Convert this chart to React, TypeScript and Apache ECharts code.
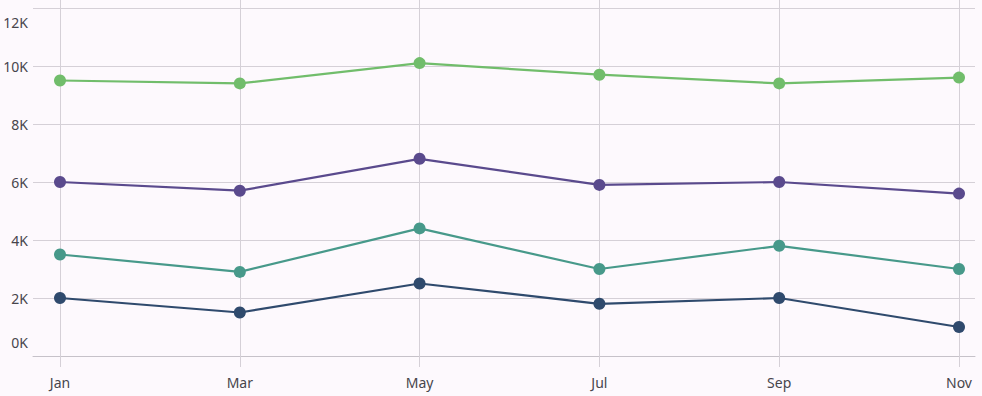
import React, { useEffect, useRef } from "react";
import * as echarts from "echarts";

const months = ["Jan", "Mar", "May", "Jul", "Sep", "Nov"];
const seriesGreen = [9500, 9400, 10100, 9700, 9400, 9600];
const seriesPurple = [6000, 5700, 6800, 5900, 6000, 5600];
const seriesTeal = [3500, 2900, 4400, 3000, 3800, 3000];
const seriesNavy = [2000, 1500, 2500, 1800, 2000, 1000];
const yMin = 0;
const yMax = 12000;
const yStep = 2000;

const colors = {
  green: "#71bd6b",
  purple: "#5a4a8d",
  teal: "#47998a",
  navy: "#2f4a6d",
};

export default function App() {
  const ref = useRef<HTMLDivElement>(null);
  useEffect(() => {
    if (!ref.current) return;
    const chart = echarts.init(ref.current, undefined, { renderer: "svg" });
    const gridTop = 8;
    const gridBottom = 40;
    const plotH = 396 - gridTop - gridBottom;
    const pxPerUnit = plotH / (yMax - yMin);
    const fullMax = yMax + gridTop / pxPerUnit;
    const gridColor = "#d5d0d7";
    const textColor = "#47454c";
    const fontFamily = "'Noto Sans', 'Open Sans', sans-serif";
    const mk = (name: string, data: number[], color: string) => ({
      name,
      type: "line",
      xAxisIndex: 1,
      yAxisIndex: 1,
      data,
      symbol: "circle",
      symbolSize: 12,
      lineStyle: { width: 2.2, color },
      itemStyle: { color },
      z: 3,
    });
    chart.setOption({
      animation: false,
      backgroundColor: "#fdf9fd",
      grid: [
        { left: 33, right: 7, top: gridTop, bottom: gridBottom },
        { left: 60, right: 23, top: 0, bottom: gridBottom },
      ],
      xAxis: [
        {
          type: "value",
          gridIndex: 0,
          min: 0,
          max: 1,
          axisLine: { show: true, onZero: false, lineStyle: { color: "#c6c2c9", width: 1 } },
          axisTick: { show: false },
          axisLabel: { show: false },
          splitLine: { show: false },
        },
        {
          type: "category",
          gridIndex: 1,
          data: months,
          boundaryGap: false,
          axisLine: { show: false },
          axisTick: { show: true, length: 11, lineStyle: { color: gridColor } },
          splitLine: { show: true, lineStyle: { color: gridColor, width: 1 } },
          axisLabel: {
            margin: 19,
            color: textColor,
            fontSize: 14,
            fontFamily,
          },
        },
      ],
      yAxis: [
        {
          type: "value",
          gridIndex: 0,
          min: yMin,
          max: yMax,
          interval: yStep,
          axisLine: { show: false },
          axisTick: { show: false },
          splitLine: { show: true, lineStyle: { color: gridColor, width: 1 } },
          axisLabel: {
            margin: 5,
            color: textColor,
            fontSize: 14,
            fontFamily,
            formatter: (v: number) => {
              const t = `${v / 1000}K`;
              if (v === yMin) return `{lo|${t}}`;
              if (v === yMax) return `{hi|${t}}`;
              return t;
            },
            rich: {
              lo: { padding: [0, 0, 28, 0], color: textColor, fontSize: 14, fontFamily },
              hi: { padding: [28, 0, 0, 0], color: textColor, fontSize: 14, fontFamily },
            },
          },
        },
        {
          type: "value",
          gridIndex: 1,
          min: yMin,
          max: fullMax,
          show: false,
          splitLine: { show: false },
        },
      ],
      series: [
        mk("Series A", seriesGreen, colors.green),
        mk("Series B", seriesPurple, colors.purple),
        mk("Series C", seriesTeal, colors.teal),
        mk("Series D", seriesNavy, colors.navy),
      ],
    });
    return () => chart.dispose();
  }, []);
  return <div ref={ref} style={{ width: 982, height: 396, position: "absolute", left: 0, top: 0 }} />;
}
